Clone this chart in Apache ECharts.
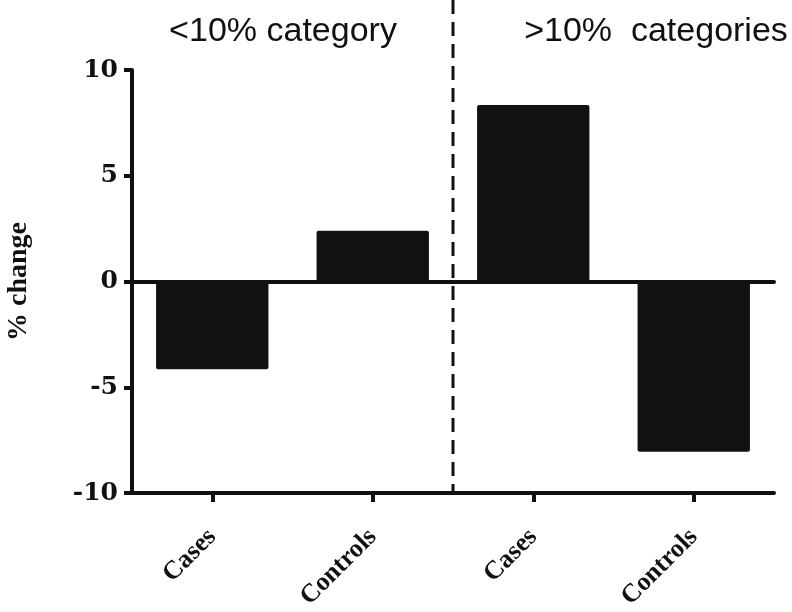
<!DOCTYPE html>
<html>
<head>
<meta charset="utf-8">
<script src="https://cdn.jsdelivr.net/npm/echarts@6/dist/echarts.min.js"></script>
<style>
  html, body { margin: 0; padding: 0; background: #fff; }
  #chart { width: 792px; height: 612px; }
</style>
</head>
<body>
<div id="chart"></div>
<script>
  // data
  const categories = ['Cases', 'Controls', 'Cases', 'Controls']
  const pctChange = [-4.15, 2.4, 8.35, -8.05]
  const groupTitles = ['<10% category', '>10%  categories']
  const yTicks = { min: -10, max: 10, interval: 5 }

  const serif = '"Liberation Serif", "Times New Roman", serif'
  const wideSerif = '"DejaVu Serif", "Liberation Serif", serif'
  const sans = '"Liberation Sans", Arial, sans-serif'
  const ink = '#111111'

  let myChart = echarts.init(document.getElementById('chart'))

  let titleStyle = { fontFamily: sans, fontSize: 34, fontWeight: 'normal', color: ink }

  let option = {
    animation: false,
    backgroundColor: '#ffffff',
    title: [
      { text: groupTitles[0], left: 278, top: 10, textAlign: 'center', textStyle: titleStyle },
      { text: groupTitles[1], left: 651, top: 10, textAlign: 'center', textStyle: titleStyle }
    ],
    grid: { left: 132, right: 18, top: 70, bottom: 119, containLabel: false, outerBoundsMode: 'none' },
    xAxis: {
      type: 'category',
      data: categories,
      boundaryGap: true,
      axisLine: { onZero: false, lineStyle: { color: ink, width: 4, cap: 'round' } },
      axisTick: { show: true, alignWithLabel: true, length: 9, lineStyle: { color: ink, width: 4 } },
      axisLabel: {
        rotate: 45, margin: 40, interval: 0,
        fontFamily: serif, fontWeight: 'bold', fontSize: 26, color: ink
      }
    },
    yAxis: {
      type: 'value',
      min: yTicks.min, max: yTicks.max, interval: yTicks.interval,
      name: '% change',
      nameLocation: 'middle',
      nameGap: 99,
      nameRotate: 90,
      nameTextStyle: { fontFamily: serif, fontWeight: 'bold', fontSize: 28, color: ink },
      splitLine: { show: false },
      axisLine: { show: true, lineStyle: { color: ink, width: 4, cap: 'round' } },
      axisTick: { show: true, length: 8, lineStyle: { color: ink, width: 4 } },
      axisLabel: { margin: 14, fontFamily: wideSerif, fontWeight: 'bold', fontSize: 25, color: ink }
    },
    series: [
      {
        type: 'bar',
        data: pctChange,
        barWidth: '70%',
        itemStyle: { color: ink, borderRadius: 2 },
        markLine: {
          silent: true,
          symbol: 'none',
          label: { show: false },
          lineStyle: { color: ink, width: 4, type: 'solid', cap: 'round' },
          data: [{ yAxis: 0 }]
        }
      }
    ]
  }
  myChart.setOption(option)

  // dashed separator between the two groups, placed through the axes
  let c1 = myChart.convertToPixel({ xAxisIndex: 0 }, 1)
  let c2 = myChart.convertToPixel({ xAxisIndex: 0 }, 2)
  let sepX = (c1 + c2) / 2
  let yBottom = myChart.convertToPixel({ yAxisIndex: 0 }, yTicks.min)
  myChart.setOption({
    graphic: [
      {
        type: 'line',
        z: 10,
        shape: { x1: sepX, y1: 0, x2: sepX, y2: yBottom },
        style: { stroke: ink, lineWidth: 3, lineDash: [14, 8] }
      }
    ]
  })
</script>
</body>
</html>
